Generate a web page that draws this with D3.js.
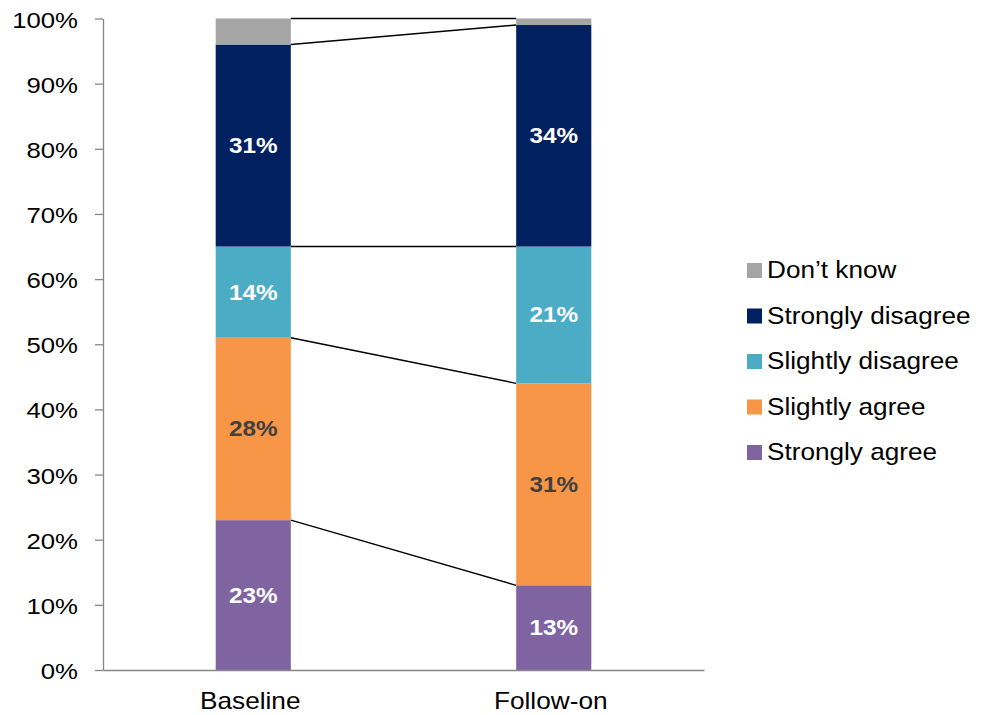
<!DOCTYPE html>
<html>
<head>
<meta charset="utf-8">
<script src="https://cdn.jsdelivr.net/npm/d3@7"></script>
<style>
  html, body { margin: 0; padding: 0; background: #fff; }
  svg { display: block; font-family: "Liberation Sans", Arial, sans-serif; }
</style>
</head>
<body>
<svg id="chart" width="983" height="715"></svg>
<script>
// Survey responses, percent of respondents per wave
const categories = ["Baseline", "Follow-on"];
const seriesNames = ["Strongly agree", "Slightly agree", "Slightly disagree", "Strongly disagree", "Don\u2019t know"];
const stronglyAgree = [23, 13];
const slightlyAgree = [28, 31];
const slightlyDisagree = [14, 21];
const stronglyDisagree = [31, 34];
const dontKnow = [4, 1];
const tickValues = [0, 10, 20, 30, 40, 50, 60, 70, 80, 90, 100];

const seriesValues = [stronglyAgree, slightlyAgree, slightlyDisagree, stronglyDisagree, dontKnow];
const colors = ["#8064A2", "#F79646", "#4BACC6", "#002060", "#A5A5A5"];
const labelColors = ["#ffffff", "#404040", "#ffffff", "#ffffff", null];

const svg = d3.select("#chart");
const plotLeft = 103, plotRight = 704, plotTop = 18.5, plotBottom = 670;
const axisColor = "#868686";

const x = d3.scaleBand().domain(categories).range([plotLeft, plotRight])
  .paddingInner(0.75).paddingOuter(0.375);
const y = d3.scaleLinear().domain([0, 100]).range([plotBottom, plotTop]);

// build stacked data
const rows = categories.map((c, i) => {
  const r = { category: c };
  seriesNames.forEach((s, k) => r[s] = seriesValues[k][i]);
  return r;
});
const stacked = d3.stack().keys(seriesNames)(rows);

// connector lines between the tops of each series
const conn = svg.append("g");
stacked.forEach(layer => {
  conn.append("line")
    .attr("x1", x(categories[0]) + x.bandwidth())
    .attr("y1", y(layer[0][1]))
    .attr("x2", x(categories[1]))
    .attr("y2", y(layer[1][1]))
    .attr("stroke", "#000")
    .attr("stroke-width", 1.4);
});

// bars
const bars = svg.append("g");
stacked.forEach((layer, k) => {
  bars.selectAll(null).data(layer).enter().append("rect")
    .attr("x", d => x(d.data.category))
    .attr("width", x.bandwidth())
    .attr("y", d => y(d[1]))
    .attr("height", d => y(d[0]) - y(d[1]))
    .attr("fill", colors[k]);
});

// value labels
const labels = svg.append("g");
stacked.forEach((layer, k) => {
  if (!labelColors[k]) return;
  layer.forEach(d => {
    const cx = x(d.data.category) + x.bandwidth() / 2;
    const cy = (y(d[0]) + y(d[1])) / 2 + 7.5;
    labels.append("text")
      .attr("transform", `translate(${cx},${cy}) scale(1.13,1)`)
      .attr("text-anchor", "middle")
      .attr("font-size", 21.5)
      .attr("font-weight", "bold")
      .attr("fill", labelColors[k])
      .text(d3.format("d")(d[1] - d[0]) + "%");
  });
});

// y axis
const yAxis = svg.append("g").attr("transform", `translate(${plotLeft},0)`)
  .call(d3.axisLeft(y).tickValues(tickValues).tickSize(8).tickSizeOuter(0).tickFormat(v => v + "%"));
yAxis.select(".domain").attr("stroke", axisColor).attr("stroke-width", 1.3);
yAxis.selectAll(".tick line").attr("stroke", axisColor).attr("stroke-width", 1.3);
yAxis.selectAll(".tick text").remove();
yAxis.selectAll(".tick").append("text")
  .attr("transform", "translate(-25,8.5) scale(1.12,1)")
  .attr("text-anchor", "end")
  .attr("font-size", 23)
  .attr("fill", "#000")
  .text(v => v + "%");

// x axis
const xAxis = svg.append("g").attr("transform", `translate(0,${plotBottom})`)
  .call(d3.axisBottom(x).tickSize(0).tickSizeOuter(0));
xAxis.select(".domain").attr("stroke", axisColor).attr("stroke-width", 1.3);
xAxis.selectAll(".tick text").remove();
xAxis.selectAll(".tick").append("text")
  .attr("transform", "translate(-3,39) scale(1.14,1)")
  .attr("text-anchor", "middle")
  .attr("font-size", 23)
  .attr("fill", "#000")
  .text(d => d);

// legend, top entry is the last stacked series
const legend = svg.append("g");
const legendOrder = seriesNames.map((s, k) => k).reverse();
legendOrder.forEach((k, i) => {
  const by = 278 + i * 45.5;
  legend.append("rect")
    .attr("x", 747).attr("y", by - 15)
    .attr("width", 15).attr("height", 15)
    .attr("fill", colors[k]);
  legend.append("text")
    .attr("transform", `translate(767,${by}) scale(1.09,1)`)
    .attr("font-size", 24)
    .attr("fill", "#000")
    .text(seriesNames[k]);
});
</script>
</body>
</html>
